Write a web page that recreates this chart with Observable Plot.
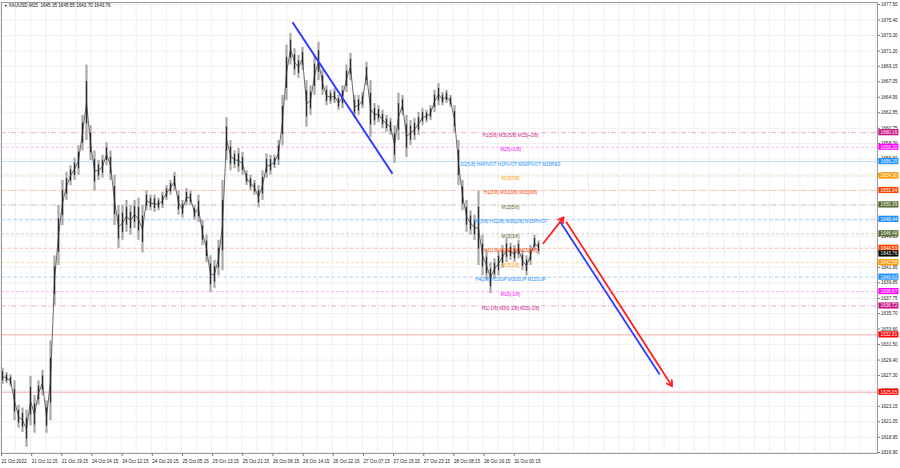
<!DOCTYPE html>
<html><head><meta charset="utf-8">
<script src="https://cdn.jsdelivr.net/npm/d3@7"></script>
<script src="https://cdn.jsdelivr.net/npm/@observablehq/plot@0.6"></script>
<style>html,body{margin:0;padding:0;background:#fff;overflow:hidden}</style>
</head><body><div id="chart"></div>
<script>
// ---------- data ----------
const symbol = "XAUUSD,M15";
const ohlc = [1645.35, 1645.55, 1643.70, 1643.76];
const lastPrice = 1643.76;

// price bars, one every few M15 candles (high / low)
const highs = [1628.3,1627.7,1627.4,1626.6,1623.3,1622.9,1622.6,1627.2,1624.6,1626.6,1628.0,1623.9,1632.0,1643.5,1650.3,1653.7,1654.8,1655.7,1656.7,1658.4,
1662.5,1669.3,1661.1,1657.7,1656.4,1657.1,1658.8,1657.7,1654.4,1650.3,1650.3,1651.0,1650.3,1651.0,1651.3,1650.3,1652.3,1651.7,1651.7,1651.3,
1652.1,1653.0,1653.7,1654.8,1652.3,1651.0,1652.6,1652.3,1650.3,1651.7,1648.3,1646.3,1643.5,1642.9,1645.6,1653.7,1662.2,1659.1,1657.7,1658.0,
1657.5,1655.0,1654.4,1653.7,1653.0,1655.0,1657.3,1657.1,1657.1,1659.1,1665.2,1672.0,1673.6,1671.5,1670.6,1671.7,1667.2,1666.5,1670.6,1672.4,
1668.6,1666.5,1665.9,1666.1,1665.2,1666.5,1669.3,1670.9,1665.2,1665.2,1665.6,1669.7,1667.2,1664.1,1663.8,1663.2,1662.5,1662.1,1661.1,1665.5,
1665.2,1662.5,1661.8,1662.1,1662.9,1663.4,1663.2,1663.8,1665.9,1666.8,1665.6,1665.9,1665.2,1663.8,1659.1,1653.7,1651.0,1649.6,1649.0,1652.3,
1646.3,1644.2,1642.6,1643.1,1644.2,1644.9,1645.8,1645.2,1644.9,1645.6,1644.2,1643.5,1644.9,1646.3,1645.55];
const lows = [1626.1,1626.2,1625.8,1621.2,1620.2,1619.6,1617.6,1620.5,1619.5,1623.3,1624.6,1619.5,1621.2,1636.8,1642.2,1647.6,1651.0,1653.0,1653.7,1654.4,
1657.7,1659.1,1656.4,1652.3,1653.7,1654.0,1655.7,1653.7,1647.6,1644.5,1645.6,1646.7,1646.3,1647.2,1645.6,1643.9,1649.6,1649.6,1649.4,1649.6,
1649.9,1651.0,1651.7,1652.3,1649.0,1648.6,1650.3,1650.3,1648.3,1648.0,1644.9,1642.6,1638.5,1639.1,1640.8,1641.5,1656.4,1655.0,1655.3,1654.8,
1654.4,1653.0,1652.3,1651.7,1650.0,1651.0,1654.0,1654.4,1655.3,1655.7,1658.4,1664.5,1669.3,1667.9,1667.5,1668.6,1660.9,1662.5,1665.2,1667.2,
1665.2,1663.8,1664.0,1664.1,1663.2,1663.4,1665.6,1667.2,1662.1,1662.5,1663.4,1666.5,1659.5,1661.1,1661.5,1660.7,1660.2,1659.8,1656.0,1659.1,
1662.5,1656.8,1658.4,1659.1,1659.8,1661.1,1661.5,1661.8,1662.9,1663.8,1663.8,1664.1,1663.6,1660.2,1653.0,1649.6,1646.7,1646.3,1645.6,1642.2,
1640.8,1640.2,1638.4,1640.4,1640.8,1641.8,1642.6,1642.9,1642.6,1643.1,1641.5,1640.8,1642.2,1644.2,1643.70];

const priceTicks = [1677.50,1675.40,1673.30,1671.20,1669.15,1667.05,1664.95,1662.85,1660.75,1658.70,1656.60,1654.50,1652.40,1650.35,1648.25,
1646.15,1644.05,1641.95,1639.85,1637.75,1635.70,1633.60,1631.50,1629.40,1627.30,1625.25,1623.15,1621.05,1618.95,1616.90];

const dateLabels = ["21 Oct 2022","21 Oct 11:15","21 Oct 19:15","24 Oct 04:15","24 Oct 12:15","24 Oct 20:15","25 Oct 05:15","25 Oct 13:15",
"25 Oct 21:15","26 Oct 06:15","26 Oct 14:15","26 Oct 22:15","27 Oct 07:15","27 Oct 15:15","27 Oct 23:15","28 Oct 08:15","28 Oct 16:15","31 Oct 00:15"];

const levelValues = [1660.16,1658.20,1656.25,1654.30,1652.34,1650.39,1648.44,1646.48,1644.53,1642.58,1640.62,1638.67,1636.72,1632.81,1625.05];
const levelNames = ["H1[5/8] M30[5/8] M15[+2/8]","M15[+1/8]","D1[5/8] H4PIVOT H1PIVOT M30PIVOT M15RES","M15[7/8]","H1[3/8] M30[3/8] M15[6/8]",
"M15[5/8]","H4[3/8] H1[2/8] M30[2/8] M15PIVOT","M15[3/8]","H1[1/8] M30[1/8] M15[2/8]","M15[1/8]","H4[2/8] H1SUP M30SUP M15SUP",
"M15[-1/8]","H1[-1/8] M30[-1/8] M15[-2/8]","",""];

// drawn objects (bar slot, price)
const trendSlots = [72.5, 97.5],   trendPrices = [1675.1, 1654.6];
const upSlots = [135.2, 140.3],    upPrices = [1645.2, 1648.7];
const blueSlots = [139.3, 164.3],  bluePrices = [1648.2, 1627.45];
const redSlots = [141.0, 167.4],   redPrices = [1648.05, 1625.87];

// ---------- styles ----------
const levelColor = ["#c71585","#ff00ff","#1e90ff","#ff9900","#ff4500","#556b2f","#1e90ff","#556b2f","#ff4500","#ff9900","#1e90ff","#ff00ff","#c71585","#ff0000","#ff0000"];
const lineColor  = ["#e3a3c8","#f5aef5","#b3dcf8","#f9d9ad","#f8bfa9","#c9c9bd","#a9d0f5","#cbcbbd","#f8bfa9","#f9d9ad","#a9d0f5","#f5aef5","#e3a3c8","#f5a0a0","#f5a0a0"];
const lineDash   = ["5,2,1,2","3,2",null,"3,2","5,2,1,2","5,2,1,2","4,2","3,2","4,2","3,2","4,2","3,2","5,2,1,2",null,null];
const FS = 4.6;

// ---------- build ----------
const bars = highs.map((h, i) => ({i, hi: h, lo: lows[i]}));
const levels = levelValues.map((v, k) => ({v, name: levelNames[k], color: levelColor[k], lc: lineColor[k], dash: lineDash[k]}));
const badges = levels.map(d => ({v: d.v, color: d.color})).concat([{v: lastPrice, color: "#000"}]);
const gridSlots = d3.range(0, 59).map(k => k * 3.77 - 0.5);
const dateSlots = dateLabels.map((_, k) => k * 7.54 - 0.5);
const seg = (s, p) => [{x1: s[0], y1: p[0], x2: s[1], y2: p[1]}];

const marks = [
  Plot.ruleX(gridSlots, {stroke: "#ececec", strokeWidth: 0.8}),
  Plot.ruleY(priceTicks, {stroke: "#ececec", strokeWidth: 0.8}),
  ...levels.map(d => Plot.ruleY([d.v], {stroke: d.lc, strokeWidth: 0.9, strokeDasharray: d.dash})),
  Plot.frame({stroke: "#9a9a9a", strokeWidth: 1}),
  Plot.ruleX(bars, {x: "i", y1: "lo", y2: "hi", stroke: "#a8a8a8", strokeWidth: 2.2}),
  Plot.line(bars, {x: "i", y: d => (d.hi + d.lo) / 2, stroke: "#444", strokeWidth: 0.8}),
  Plot.ruleX(bars, {x: "i", y1: d => d.lo + 0.22 * (d.hi - d.lo), y2: d => d.hi - 0.22 * (d.hi - d.lo), stroke: "#2a2a2a", strokeWidth: 1.2}),
  Plot.text(levels.filter(d => d.name), {x: 127, y: "v", text: "name", fill: d => d.color, dy: 2.5, fontSize: FS}),
  Plot.link(seg(trendSlots, trendPrices), {x1: "x1", y1: "y1", x2: "x2", y2: "y2", stroke: "#2a3cff", strokeWidth: 2}),
  Plot.link(seg(blueSlots, bluePrices), {x1: "x1", y1: "y1", x2: "x2", y2: "y2", stroke: "#2a3cff", strokeWidth: 1.8}),
  Plot.arrow(seg(upSlots, upPrices), {x1: "x1", y1: "y1", x2: "x2", y2: "y2", stroke: "#ff2020", strokeWidth: 1.8, headLength: 5}),
  Plot.arrow(seg(redSlots, redPrices), {x1: "x1", y1: "y1", x2: "x2", y2: "y2", stroke: "#ff2020", strokeWidth: 1.8, headLength: 5}),
  Plot.axisY(priceTicks, {anchor: "right", tickSize: 2, tickPadding: 1.5, fontSize: FS, tickFormat: d => d.toFixed(2), label: null, stroke: "#777", fill: "#222"}),
  Plot.axisX(dateSlots, {anchor: "bottom", tickSize: 3, tickPadding: 3, fontSize: FS, textAnchor: "start", dx: 1, tickFormat: (d, k) => dateLabels[k], label: null, stroke: "#777", fill: "#222"}),
  Plot.rect(badges, {x1: 219.1, x2: 224.1, y1: d => d.v - 0.42, y2: d => d.v + 0.42, fill: "color"}),
  Plot.text(badges, {x: 221.6, y: "v", text: d => d.v.toFixed(2), fill: "white", fontSize: FS}),
  Plot.text([symbol + "  " + ohlc.map(v => v.toFixed(2)).join(" ")], {frameAnchor: "top-left", dx: 7, dy: 3, text: d => d, textAnchor: "start", lineAnchor: "middle", fontSize: FS, fill: "#111"}),
  Plot.text(["\u25BC"], {frameAnchor: "top-left", dx: 2.5, dy: 3, text: d => d, textAnchor: "start", lineAnchor: "middle", fontSize: 3.5, fill: "#111"})
];

const chart = Plot.plot({
  width: 900, height: 468,
  marginLeft: 1, marginRight: 23, marginTop: 2, marginBottom: 15,
  x: {type: "linear", domain: [-0.25, 218.75], range: [1, 877], axis: null},
  y: {type: "linear", domain: [1616.90, 1677.50], range: [452, 4], axis: null},
  style: {fontFamily: "'Liberation Sans', Arial, sans-serif", fontSize: FS + "px", background: "#fff", overflow: "visible"},
  marks
});
document.getElementById("chart").appendChild(chart);
</script>
</body></html>
